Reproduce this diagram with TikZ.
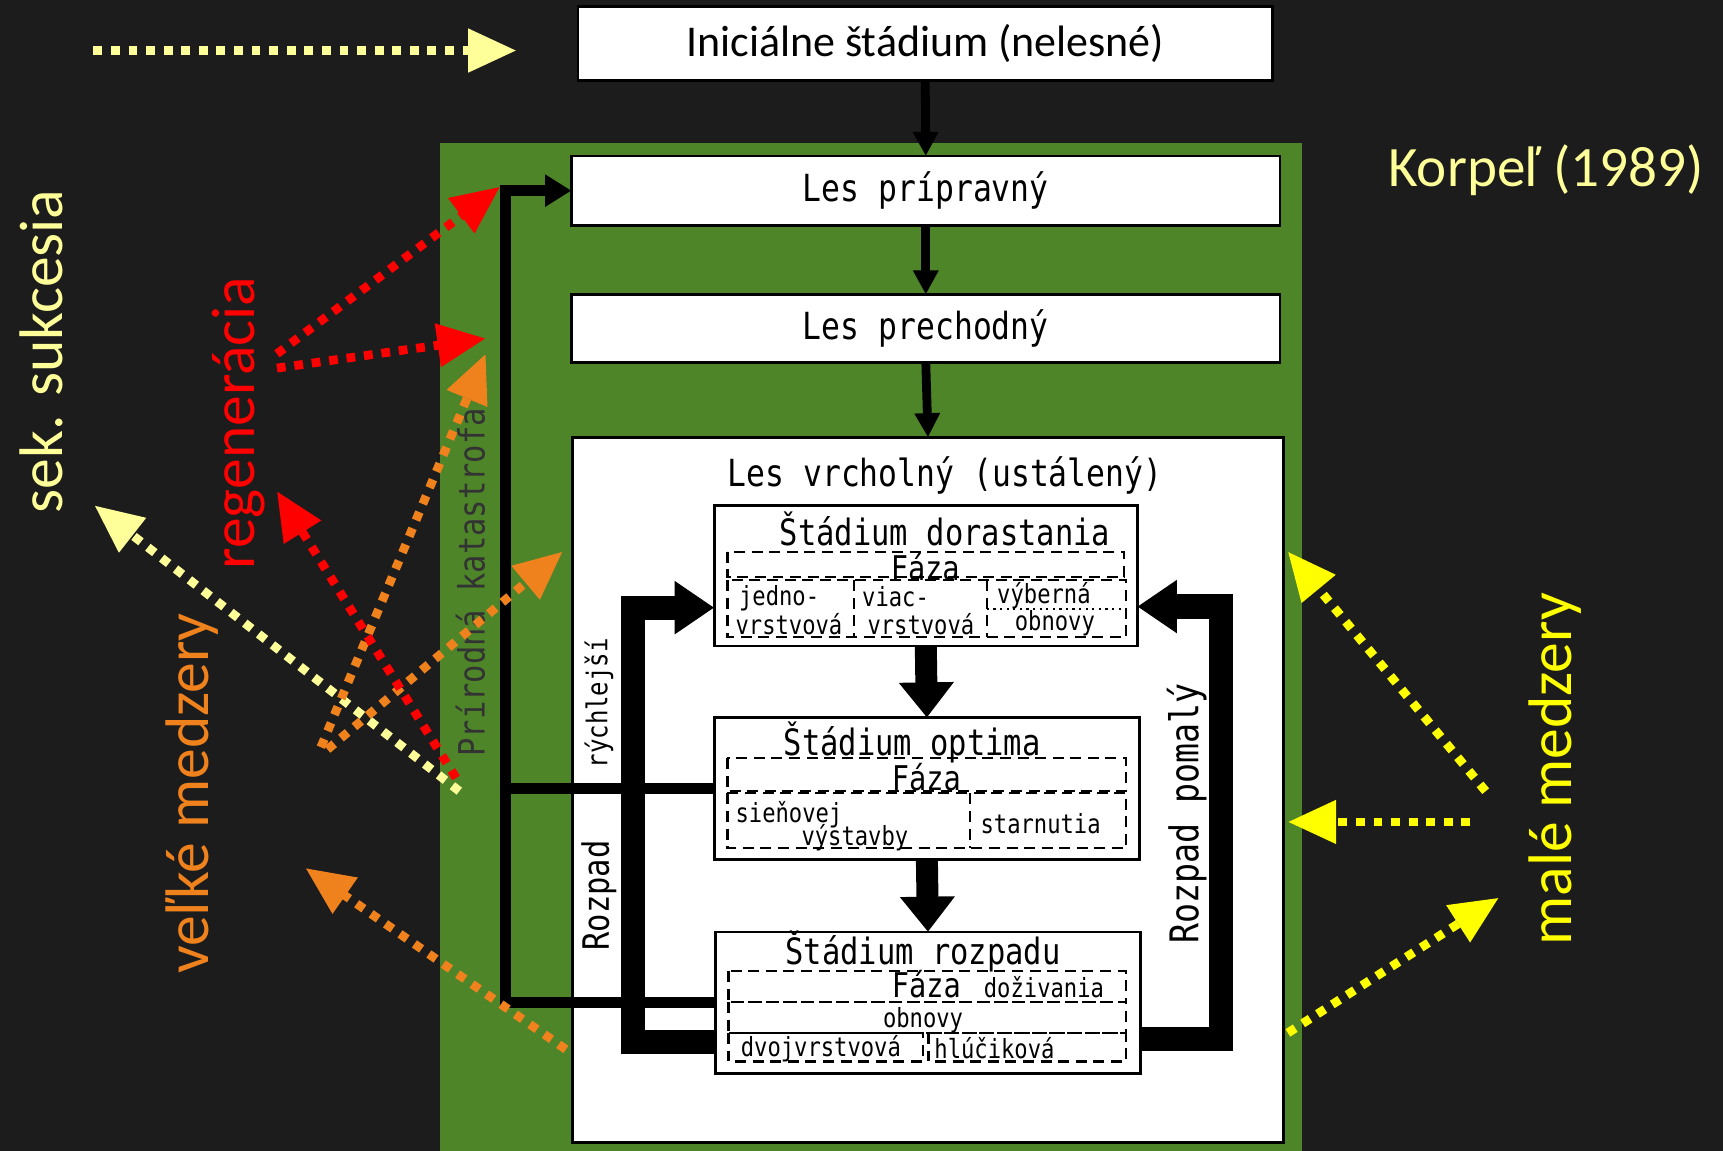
\documentclass[tikz,border=0pt]{standalone}
\usepackage{fontspec}
\setmainfont{Carlito}
\newfontfamily\tech[FakeStretch=0.84]{DejaVu Sans Mono}
\usetikzlibrary{arrows.meta,calc}
\definecolor{bg}{HTML}{1C1C1C}
\definecolor{grn}{HTML}{4E8529}
\definecolor{lyel}{HTML}{FFFF99}
\definecolor{yel}{HTML}{FFFF00}
\definecolor{org}{HTML}{F0821E}
\definecolor{rd}{HTML}{FF0000}
\begin{document}
\begin{tikzpicture}[x=0.5pt,y=-0.5pt,
  box/.style={draw=black,fill=white,line width=1.2pt,inner sep=0pt,outer sep=0pt},
  tt/.style={font=\tech\fontsize{17}{17}\selectfont,inner sep=0pt},
  tm/.style={font=\tech\fontsize{16.5}{16.5}\selectfont,inner sep=0pt},
  tf/.style={font=\tech\fontsize{15.5}{15.5}\selectfont,inner sep=0pt},
  ts/.style={font=\tech\fontsize{12}{12}\selectfont,inner sep=0pt},
  dsh/.style={draw=black,line width=1pt,dash pattern=on 5pt off 3pt},
  thinarr/.style={draw=black,line width=4pt,-{Triangle[length=11pt,width=11pt]}},
  fatarr/.style={draw=black,line width=10pt,-{Triangle[length=16pt,width=24pt]}},
  bar/.style={draw=black,line width=11pt,line join=miter,-{Triangle[length=18pt,width=23pt]}},
  katline/.style={draw=black,line width=5pt,line join=miter},
  dotarr/.style={draw=#1,line width=4pt,dash pattern=on 4pt off 4pt,-{Triangle[length=22pt,width=19pt]}},
  lab/.style={font=\fontsize{28}{28}\selectfont,rotate=90,inner sep=0pt}
]
\fill[bg] (0,0) rectangle (1568,1047);
\useasboundingbox (0,0) rectangle (1568,1047);
\fill[grn] (400,130) rectangle (1185,1047);

% boxes
\node[box,minimum width=316pt,minimum height=33.5pt,font=\fontsize{20}{20}\selectfont] (init) at (842,39.5) {Iniciálne štádium (nelesné)};
\node[box,minimum width=322.5pt,minimum height=31.5pt,tt] (pri) at (842.5,173.5) {Les prípravný};
\node[box,minimum width=322.5pt,minimum height=31pt,tt] (pre) at (842.5,299) {Les prechodný};
\node[box,minimum width=323.5pt,minimum height=321pt] (vrch) at (844.5,719) {};
\node[tt] (vrchT) at (860,433) {Les vrcholný (ustálený)};
\node[box,minimum width=192.5pt,minimum height=64pt] (dor) at (842.5,524) {};
\node[box,minimum width=193.5pt,minimum height=64.5pt] (opt) at (843.5,717.5) {};
\node[box,minimum width=193.5pt,minimum height=64.5pt] (roz) at (844.5,912.5) {};

% vertical arrows
\draw[thinarr] (init.south) -- (pri.north);
\draw[thinarr] (pri.south) -- (pre.north);
\draw[thinarr] (pre.south) -- (vrch.north);
\draw[fatarr] (dor.south) -- (opt.north);
\draw[fatarr] (opt.south) -- (roz.north);

% natural catastrophe path
\coordinate (kt) at ($(pri.west)+(-60,0)$);
\draw[katline,-{Triangle[length=12pt,width=14pt]}] (roz.west) -| (kt) -- (pri.west);
\draw[katline] (opt.west) -- (opt.west -| kt);

% decay paths
\draw[bar] ($(roz.west)+(0,36)$) -| ($(dor.west)+(-74,29)$) -- ($(dor.west)+(0,29)$);
\draw[bar] ($(roz.east)+(0,33)$) -| ($(dor.east)+(76,28)$) -- ($(dor.east)+(0,28)$);

% inner content: dorastania
\node[tm] (dorT) at (860,481) {Štádium dorastania};
\draw[dsh] (662,502) rectangle (1023,525);
\node[tf] (dorF) at (842,516) {Fáza};
\draw[dsh] (662,528) rectangle (1025,580);
\draw[dsh] (777,528) -- (777,580);
\draw[dsh] (898,528) -- (898,580);
\draw[black,line width=0.8pt,dash pattern=on 1pt off 2pt] (898,554) -- (1025,554);
\node[ts] (d1) at (709,544) {jedno-};
\node[ts] (d2) at (718,568) {vrstvová};
\node[ts] (d3) at (815,543) {viac-};
\node[ts] (d4) at (838,568) {vrstvová};
\node[ts] (d5) at (950,542) {výberná};
\node[ts] (d6) at (960,567) {obnovy};

% optima
\node[tm] (optT) at (830,676) {Štádium optima};
\draw[dsh] (662,690) rectangle (1025,720);
\node[tf] (optF) at (843,707) {Fáza};
\draw[dsh] (662,722) rectangle (1025,772);
\draw[dsh] (883,722) -- (883,772);
\node[ts] (o1) at (718,741) {sieňovej};
\node[ts] (o2) at (778,762) {výstavby};
\node[ts] (o3) at (947,750) {starnutia};

% rozpadu
\node[tm] (rozT) at (840,866) {Štádium rozpadu};
\draw[dsh] (663,884) rectangle (1025,912);
\node[tf] (rozF) at (843,896) {Fáza};
\node[ts] (r1) at (950,898) {doživania};
\draw[dsh] (663,912) rectangle (1025,940);
\node[ts] (r2) at (840,928) {obnovy};
\draw[dsh] (663,940) rectangle (840,966);
\draw[dsh] (845,940) rectangle (1025,966);
\node[ts] (r3) at (747,954) {dvojvrstvová};
\node[ts] (r4) at (905,954) {hlúčiková};

% rotated black labels
\node[tm,rotate=90,text=black!80] (kat) at (428,530) {Prírodná katastrofa};
\node[font=\tech\fontsize{13}{13}\selectfont,inner sep=0pt,rotate=90] (ry) at (545,640) {rýchlejší};
\node[tm,rotate=90] (rz) at (545,815) {Rozpad};
\node[font=\tech\fontsize{18}{18}\selectfont,inner sep=0pt,rotate=90] (rp) at (1080,740) {Rozpad pomalý};

% coloured labels
\node[lab,text=lyel] (sek) at (38,320) {sek. sukcesia};
\node[lab,text=rd] (reg) at (217,385) {regenerácia};
\node[lab,text=org] (vel) at (175,722) {veľké medzery};
\node[lab,text=yel] (mal) at (1415,700) {malé medzery};
\node[font=\fontsize{26}{26}\selectfont,text=lyel,inner sep=0pt] (kor) at (1407,155) {Korpeľ (1989)};

% coloured arrows
\coordinate (t0s) at (85,46);   \coordinate (t0e) at (470,46);
\coordinate (r1s) at (252,322); \coordinate (r1e) at (455,170);
\coordinate (r2s) at (252,335); \coordinate (r2e) at (442,308);
\coordinate (r3s) at (415,708); \coordinate (r3e) at (252,447);
\coordinate (o1s) at (292,680); \coordinate (o1e) at (442,322);
\coordinate (o2s) at (298,682); \coordinate (o2e) at (512,502);
\coordinate (o3s) at (515,955); \coordinate (o3e) at (278,790);
\coordinate (l1s) at (418,720); \coordinate (l1e) at (86,460);
\coordinate (y1s) at (1352,720); \coordinate (y1e) at (1172,502);
\coordinate (y2s) at (1338,748); \coordinate (y2e) at (1172,748);
\coordinate (y3s) at (1172,940); \coordinate (y3e) at (1364,817);
\draw[dotarr=lyel] (t0s) -- (t0e);
\draw[dotarr=lyel] (l1s) -- (l1e);
\draw[dotarr=org] (o1s) -- (o1e);
\draw[dotarr=org] (o2s) -- (o2e);
\draw[dotarr=org] (o3s) -- (o3e);
\draw[dotarr=rd] (r1s) -- (r1e);
\draw[dotarr=rd] (r2s) -- (r2e);
\draw[dotarr=rd] (r3s) -- (r3e);
\draw[dotarr=yel] (y1s) -- (y1e);
\draw[dotarr=yel] (y2s) -- (y2e);
\draw[dotarr=yel] (y3s) -- (y3e);
\end{tikzpicture}
\end{document}
